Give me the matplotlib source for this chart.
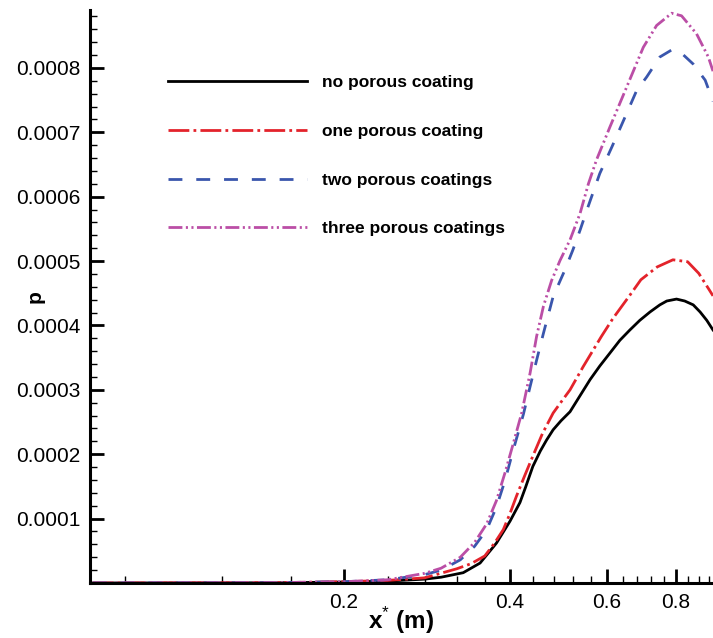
import matplotlib
matplotlib.use("Agg")
import matplotlib.pyplot as plt
from matplotlib.ticker import FixedLocator, FormatStrFormatter, NullFormatter

plt.rcParams['font.family'] = ['Liberation Sans', 'DejaVu Sans']
plt.rcParams['mathtext.fontset'] = 'custom'
plt.rcParams['mathtext.rm'] = 'Liberation Sans'
plt.rcParams['mathtext.bf'] = 'Liberation Sans:bold'
plt.rcParams['lines.scale_dashes'] = False

# no porous coating
x_none = [0.07, 0.15, 0.20, 0.24, 0.28, 0.30, 0.329, 0.353, 0.378, 0.40, 0.417, 0.427,
          0.44, 0.454, 0.466, 0.479, 0.495, 0.514, 0.536, 0.559, 0.582, 0.607, 0.633,
          0.660, 0.688, 0.718, 0.748, 0.770, 0.802, 0.830, 0.860, 0.885, 0.910, 0.934]
p_none = [0, 0.3e-6, 1.5e-6, 3e-6, 6e-6, 9e-6, 16e-6, 31e-6, 62e-6, 96e-6, 125e-6, 149e-6,
          181e-6, 205e-6, 222e-6, 238e-6, 252e-6, 266e-6, 291e-6, 316e-6, 337e-6, 357e-6, 377e-6,
          393e-6, 408e-6, 421e-6, 432e-6, 438e-6, 441e-6, 438e-6, 432e-6, 421e-6, 408e-6, 393e-6]

# one porous coating
x_one = [0.07, 0.15, 0.20, 0.24, 0.28, 0.32, 0.34, 0.36, 0.375, 0.389, 0.40, 0.411, 0.425,
         0.44, 0.458, 0.479, 0.497, 0.514, 0.543, 0.586, 0.615, 0.66, 0.691, 0.74, 0.79,
         0.84, 0.88, 0.92, 0.934]
p_one = [0, 0.5e-6, 2e-6, 4e-6, 8e-6, 22e-6, 30e-6, 42e-6, 62e-6, 83e-6, 108e-6, 135e-6, 166e-6,
         197e-6, 232e-6, 264e-6, 283e-6, 300e-6, 336e-6, 383e-6, 411e-6, 447e-6, 471e-6, 491e-6, 502e-6,
         499e-6, 481e-6, 455e-6, 446e-6]

# two porous coatings
x_two = [0.07, 0.15, 0.20, 0.24, 0.28, 0.30, 0.325, 0.345, 0.363, 0.378, 0.392, 0.405, 0.423,
         0.435, 0.447, 0.460, 0.479, 0.503, 0.52, 0.536, 0.554, 0.582, 0.612, 0.647, 0.679,
         0.708, 0.748, 0.786, 0.814, 0.860, 0.904, 0.934]
p_two = [0, 0.5e-6, 2e-6, 5e-6, 13e-6, 20e-6, 36e-6, 57e-6, 83e-6, 118e-6, 160e-6, 205e-6, 262e-6,
         305e-6, 346e-6, 388e-6, 445e-6, 486e-6, 517e-6, 548e-6, 584e-6, 636e-6, 677e-6, 724e-6, 765e-6,
         786e-6, 817e-6, 828e-6, 825e-6, 806e-6, 781e-6, 748e-6]

# three porous coatings
x_three = [0.07, 0.15, 0.20, 0.24, 0.28, 0.30, 0.325, 0.345, 0.363, 0.378, 0.392, 0.405, 0.420,
           0.435, 0.447, 0.460, 0.476, 0.493, 0.514, 0.536, 0.555, 0.574, 0.607, 0.651, 0.698,
           0.738, 0.786, 0.819, 0.872, 0.916, 0.934]
p_three = [0, 0.5e-6, 2e-6, 5e-6, 15e-6, 23e-6, 40e-6, 63e-6, 92e-6, 128e-6, 172e-6, 215e-6, 264e-6,
           326e-6, 383e-6, 430e-6, 470e-6, 501e-6, 533e-6, 574e-6, 620e-6, 657e-6, 708e-6, 770e-6, 832e-6,
           866e-6, 885e-6, 881e-6, 853e-6, 817e-6, 795e-6]

labels = ['no porous coating', 'one porous coating', 'two porous coatings', 'three porous coatings']
x_major = [0.2, 0.4, 0.6, 0.8]
x_minor = [0.08, 0.12, 0.16, 0.24, 0.28, 0.32, 0.36, 0.44, 0.48, 0.52, 0.56,
           0.64, 0.68, 0.72, 0.76, 0.84, 0.88, 0.92]
y_major = [0.0001, 0.0002, 0.0003, 0.0004, 0.0005, 0.0006, 0.0007, 0.0008]

fig = plt.figure(figsize=(7.13, 6.38), dpi=100)
ax = fig.add_axes([90 / 713, 55 / 638, 623 / 713, 573 / 638])

lw = 2.0
ax.plot(x_none, p_none, color='black', lw=lw, label=labels[0])
ax.plot(x_one, p_one, color='#e3232b', lw=lw, linestyle=(0, (15, 3, 2, 3)), label=labels[1])
ax.plot(x_two, p_two, color='#3a56ad', lw=lw, linestyle=(0, (10, 10)), label=labels[2])
ax.plot(x_three, p_three, color='#bb4ea6', lw=lw,
        linestyle=(0, (10, 2.5, 1.5, 2.5, 1.5, 2.5)), label=labels[3])

ax.set_xscale('log')
ax.set_xlim(0.0692, 0.934)
ax.set_ylim(0, 0.00089)

ax.xaxis.set_major_locator(FixedLocator(x_major))
ax.xaxis.set_minor_locator(FixedLocator(x_minor))
ax.xaxis.set_major_formatter(FormatStrFormatter('%.1f'))
ax.xaxis.set_minor_formatter(NullFormatter())
ax.yaxis.set_major_locator(FixedLocator(y_major))
ax.yaxis.set_minor_locator(FixedLocator([i * 0.00002 for i in range(1, 45)]))
ax.yaxis.set_major_formatter(FormatStrFormatter('%.4f'))

for s in ['top', 'right']:
    ax.spines[s].set_visible(False)
for s in ['left', 'bottom']:
    ax.spines[s].set_linewidth(2.2)

ax.tick_params(which='major', direction='in', length=10, width=2, labelsize=15, pad=7)
ax.tick_params(which='minor', direction='in', length=5, width=1)

ax.set_xlabel(r'$\mathbf{x}^{*}$ (m)', fontsize=17.5, fontweight='bold')
ax.xaxis.set_label_coords(0.5, -0.039)
ax.set_ylabel('p', fontsize=15, fontweight='bold')
ax.yaxis.set_label_coords(-0.088, 0.5)
ax.yaxis.label.set_va('center')

leg = ax.legend(loc='upper left', bbox_to_anchor=(0.125, 0.886), frameon=False,
                prop={'weight': 'bold', 'size': 12.5}, handlelength=8.0,
                handletextpad=0.9, labelspacing=1.93, borderpad=0, borderaxespad=0)

fig.savefig('out.png', dpi=100)
